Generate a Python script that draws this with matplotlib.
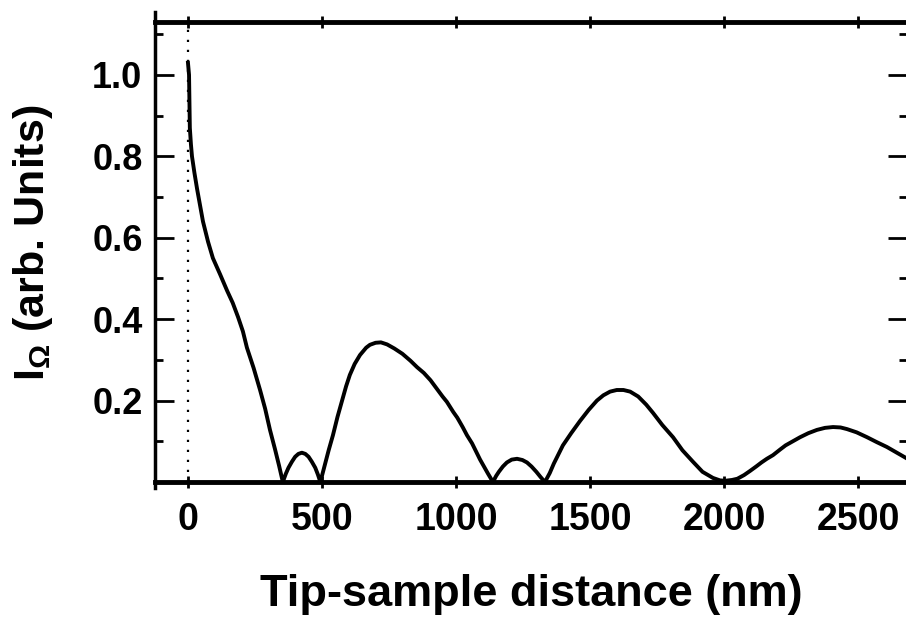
import matplotlib
matplotlib.use("Agg")
import matplotlib.pyplot as plt

# values
distance_nm = [0, 4, 7, 11, 15, 24, 34, 45, 56, 75, 93, 120, 146, 167, 187, 205, 220,
               245, 269, 288, 306, 325, 340, 354,
               365, 375, 388, 400, 412, 425, 438, 450, 462, 475, 485, 494,
               510, 525, 541, 558, 575, 590, 604, 622, 642, 665, 679, 700, 720, 743,
               770, 800, 830, 855, 880, 905, 930, 950, 966, 990, 1005, 1025, 1041,
               1060, 1075, 1090, 1101, 1120, 1138,
               1150, 1160, 1175, 1190, 1208, 1228, 1248, 1265, 1282, 1300, 1316, 1332,
               1350, 1365, 1399, 1430, 1463, 1495, 1526, 1550, 1575, 1600, 1625, 1650,
               1680, 1710, 1735, 1770, 1810, 1845, 1884, 1920, 1959, 1985, 2004, 2030,
               2050, 2075, 2097, 2120, 2140, 2160, 2183, 2210, 2230, 2257, 2284, 2315,
               2347, 2377, 2407, 2435, 2459, 2495, 2534, 2570, 2608, 2645, 2690]
intensity = [1.03, 1.0, 0.87, 0.83, 0.80, 0.76, 0.72, 0.68, 0.64, 0.59, 0.55, 0.51, 0.47, 0.44, 0.405, 0.37, 0.33,
             0.28, 0.226, 0.18, 0.128, 0.08, 0.04, 0.0,
             0.02, 0.035, 0.05, 0.062, 0.069, 0.072, 0.069, 0.062, 0.05, 0.035, 0.018, 0.0,
             0.04, 0.078, 0.115, 0.16, 0.20, 0.235, 0.263, 0.29, 0.312, 0.33, 0.337, 0.342, 0.343, 0.338,
             0.328, 0.315, 0.298, 0.282, 0.268, 0.25, 0.228, 0.21, 0.197, 0.172, 0.158, 0.135, 0.115,
             0.095, 0.075, 0.055, 0.042, 0.02, 0.0,
             0.015, 0.025, 0.038, 0.048, 0.055, 0.057, 0.054, 0.048, 0.038, 0.025, 0.012, 0.0,
             0.022, 0.045, 0.09, 0.12, 0.15, 0.177, 0.20, 0.213, 0.222, 0.226, 0.226, 0.222,
             0.21, 0.19, 0.17, 0.14, 0.11, 0.078, 0.05, 0.025, 0.01, 0.004, 0.003, 0.005,
             0.008, 0.017, 0.027, 0.038, 0.048, 0.057, 0.066, 0.08, 0.09, 0.10, 0.11, 0.12,
             0.128, 0.133, 0.135, 0.134, 0.13, 0.122, 0.11, 0.098, 0.086, 0.072, 0.055]

xticks = [0, 500, 1000, 1500, 2000, 2500]
yticks = [0.2, 0.4, 0.6, 0.8, 1.0]
yticklabels = ["0.2", "0.4", "0.6", "0.8", "1.0"]

plt.rcParams['font.family'] = ['Liberation Sans', 'DejaVu Sans']
plt.rcParams['font.weight'] = 'bold'
plt.rcParams['mathtext.fontset'] = 'custom'
plt.rcParams['mathtext.rm'] = 'Liberation Sans'
plt.rcParams['mathtext.it'] = 'Liberation Sans'

fig = plt.figure(figsize=(9.06, 6.17), dpi=100)
ax = fig.add_axes([155 / 906, 135 / 617, (907 - 155) / 906, 460 / 617])

ax.plot(distance_nm, intensity, color='k', lw=2.8, solid_joinstyle='round')
ax.plot([0, 0], [0, 1.13], color='k', lw=1.6, linestyle=(0, (1, 3.5)))

ax.set_xlim(-123, 2683)
ax.set_ylim(0, 1.13)

ax.set_xticks(xticks)
ax.set_xticklabels([str(t) for t in xticks], fontsize=27, fontweight='bold')
ax.set_yticks(yticks)
ax.set_yticklabels(yticklabels, fontsize=26, fontweight='bold')
ax.set_yticks([0.1, 0.3, 0.5, 0.7, 0.9, 1.1], minor=True)

ax.tick_params(axis='y', which='major', direction='in', length=14, width=2,
               right=True, pad=9)
ax.tick_params(axis='y', which='minor', direction='in', length=6, width=2, right=True)
ax.tick_params(axis='x', which='major', direction='inout', length=9, width=2,
               top=True, pad=10)

for side in ['top', 'bottom']:
    ax.spines[side].set_linewidth(3.5)
ax.spines['left'].set_linewidth(2.5)
ax.spines['left'].set_bounds(-0.014, 1.155)
ax.spines['right'].set_visible(False)

ax.set_xlabel('Tip-sample distance (nm)', fontsize=32.5, fontweight='bold')
ax.xaxis.set_label_coords(0.5, -0.2)
ax.set_ylabel(r'I$_{\Omega}$ (arb. Units)', fontsize=31, fontweight='bold')
ax.yaxis.set_label_coords(-0.133, 0.52)

fig.savefig('out.png', dpi=100)
